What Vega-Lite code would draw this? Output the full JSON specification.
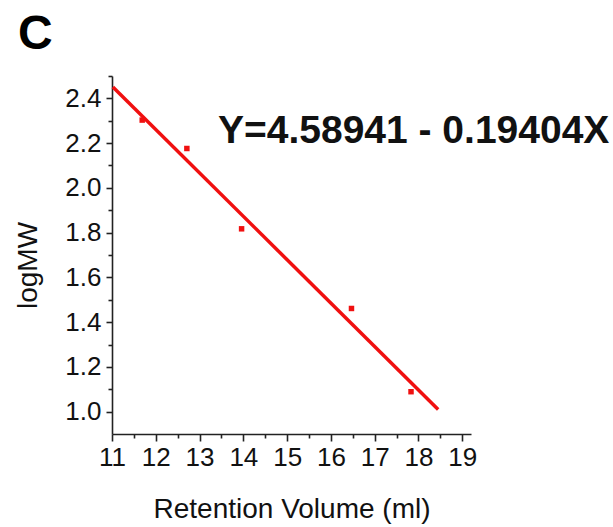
{
  "$schema": "https://vega.github.io/schema/vega-lite/v6.json",
  "width": 359,
  "height": 358,
  "autosize": {"type": "none"},
  "padding": {"left": 112, "top": 76, "right": 142, "bottom": 93},
  "background": "white",
  "config": {
    "view": {"stroke": null},
    "font": "Liberation Sans",
    "axis": {
      "grid": false,
      "labelFlush": false,
      "labelOverlap": false,
      "domainColor": "#222",
      "tickColor": "#222",
      "labelColor": "#111",
      "titleColor": "#111",
      "domainWidth": 1.6,
      "tickWidth": 1.6,
      "labelFont": "Liberation Sans",
      "titleFont": "Liberation Sans",
      "titleFontWeight": "normal"
    }
  },
  "title": {
    "text": "C",
    "anchor": "start",
    "frame": "group",
    "fontSize": 48,
    "fontWeight": "bold",
    "font": "Liberation Sans",
    "color": "#000",
    "dx": -94,
    "dy": 46,
    "offset": 24,
    "baseline": "alphabetic"
  },
  "datasets": {
    "points": [
      {"vol": 11.69, "logmw": 2.303},
      {"vol": 12.71, "logmw": 2.176},
      {"vol": 13.96, "logmw": 1.817},
      {"vol": 16.47, "logmw": 1.461},
      {"vol": 17.83, "logmw": 1.089}
    ],
    "fit": [
      {"vol": 11.02, "logmw": 2.45109},
      {"vol": 18.45, "logmw": 1.00937}
    ],
    "label": [
      {"vol": 13.42, "logmw": 2.2, "t": "Y=4.58941 - 0.19404X"}
    ]
  },
  "layer": [
    {
      "data": {"name": "fit"},
      "mark": {"type": "line", "color": "#f01010", "strokeWidth": 3.5},
      "encoding": {
        "x": {
          "field": "vol", "type": "quantitative",
          "scale": {"domain": [11, 19.2], "nice": false, "zero": false},
          "axis": {"orient": "bottom", "values": [11.5, 12.5, 13.5, 14.5, 15.5, 16.5, 17.5, 18.5], "labels": false, "tickSize": 4, "title": null, "domain": false}
        },
        "y": {
          "field": "logmw", "type": "quantitative",
          "scale": {"domain": [0.9, 2.5], "nice": false, "zero": false},
          "axis": {"orient": "left", "values": [1.1, 1.3, 1.5, 1.7, 1.9, 2.1, 2.3, 2.5], "labels": false, "tickSize": 4, "title": null, "domain": false}
        }
      }
    },
    {
      "data": {"name": "points"},
      "mark": {"type": "square", "color": "#f01010", "size": 30, "opacity": 1, "filled": true},
      "encoding": {
        "x": {
          "field": "vol", "type": "quantitative",
          "axis": {"orient": "bottom", "values": [11, 12, 13, 14, 15, 16, 17, 18, 19], "format": "d", "tickSize": 7, "labelFontSize": 26, "labelPadding": 3, "title": "Retention Volume (ml)", "titleFontSize": 28, "titleBaseline": "alphabetic", "titleY": 83}
        },
        "y": {
          "field": "logmw", "type": "quantitative",
          "axis": {"orient": "left", "values": [1.0, 1.2, 1.4, 1.6, 1.8, 2.0, 2.2, 2.4], "format": ".1f", "tickSize": 6, "labelFontSize": 26, "labelPadding": 5, "title": "logMW", "titleFontSize": 28, "titleAngle": 270, "titleBaseline": "middle", "titleAlign": "center", "titleX": -84, "titleY": 189}
        }
      }
    },
    {
      "data": {"name": "label"},
      "mark": {"type": "text", "align": "left", "baseline": "alphabetic", "fontSize": 39, "fontWeight": "bold", "font": "Liberation Sans", "color": "#111"},
      "encoding": {
        "x": {"field": "vol", "type": "quantitative", "axis": null},
        "y": {"field": "logmw", "type": "quantitative", "axis": null},
        "text": {"field": "t"}
      }
    }
  ],
  "resolve": {"axis": {"x": "independent", "y": "independent"}}
}
